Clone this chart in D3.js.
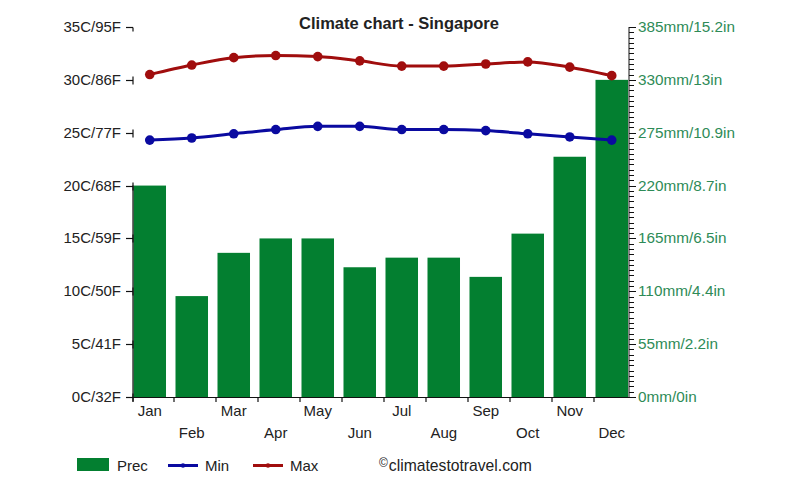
<!DOCTYPE html>
<html>
<head>
<meta charset="utf-8">
<script src="https://cdn.jsdelivr.net/npm/d3@7"></script>
<style>
  body { margin: 0; background: #fff; }
  text { font-family: "Liberation Sans", Arial, sans-serif; }
</style>
</head>
<body>
<div id="chart"></div>
<script>
// Climate chart - Singapore

const months = ["Jan", "Feb", "Mar", "Apr", "May", "Jun", "Jul", "Aug", "Sep", "Oct", "Nov", "Dec"];
const prec = [220, 105, 150, 165, 165, 135, 145, 145, 125, 170, 250, 330];
const tMin = [24.3, 24.5, 24.9, 25.3, 25.6, 25.6, 25.3, 25.3, 25.2, 24.9, 24.6, 24.3];
const tMax = [30.5, 31.4, 32.1, 32.3, 32.2, 31.8, 31.3, 31.3, 31.5, 31.7, 31.2, 30.4];
const tempTicks = [0, 5, 10, 15, 20, 25, 30, 35];
const precTicks = [0, 55, 110, 165, 220, 275, 330, 385];
const precInch = ["0", "2.2", "4.4", "6.5", "8.7", "10.9", "13", "15.2"];

(function () {
  const W = 800, H = 500;
  const left = 133, right = 629, top = 27, bottom = 397;

  const green = "#037f30", blue = "#0a0aa0", red = "#a00d0d";

  const svg = d3.select("#chart").append("svg")
    .attr("width", W).attr("height", H);

  // scales
  const x = d3.scaleBand()
    .domain(months)
    .range([left + 0.5, left + 0.5 + 11 * 42 + 32.5])
    .paddingInner(0.226)
    .paddingOuter(0);

  const yT = d3.scaleLinear().domain([0, 35]).range([bottom, top]);
  const yP = d3.scaleLinear().domain([0, 385]).range([bottom, top]);

  // title
  svg.append("text")
    .attr("x", 399).attr("y", 29)
    .attr("text-anchor", "middle")
    .attr("font-size", "16.5px").attr("font-weight", "bold")
    .attr("fill", "#222")
    .text("Climate chart - Singapore");

  // bars
  svg.selectAll(".bar")
    .data(prec)
    .enter().append("rect")
    .attr("class", "bar")
    .attr("x", (d, i) => x(months[i]))
    .attr("y", d => yP(d))
    .attr("width", x.bandwidth())
    .attr("height", d => bottom - yP(d))
    .attr("fill", green);

  // left axis (ticks with small stubs, line only along the first bar)
  const gl = svg.append("g").attr("stroke", "#111").attr("stroke-width", 1.2);
  tempTicks.forEach(t => {
    const y = Math.round(yT(t)) + 0.5;
    gl.append("line").attr("x1", left - 7).attr("x2", left).attr("y1", y).attr("y2", y);
    gl.append("line").attr("x1", left).attr("x2", left)
      .attr("y1", t === 35 ? y : y - 4).attr("y2", y + 4);
  });
  gl.append("line").attr("x1", left).attr("x2", left)
    .attr("y1", yP(prec[0])).attr("y2", bottom + 5);

  svg.append("g").selectAll("text")
    .data(tempTicks)
    .enter().append("text")
    .attr("x", left - 12)
    .attr("y", d => yT(d) + 5)
    .attr("text-anchor", "end")
    .attr("font-size", "15px")
    .attr("fill", "#222")
    .text(d => d + "C/" + Math.round(d * 9 / 5 + 32) + "F");

  // right axis
  const minor = d3.range(0, 385.01, 5.5);
  const gr = svg.append("g").attr("stroke", "#111").attr("stroke-width", 1);
  gr.append("line").attr("x1", right).attr("x2", right).attr("y1", top).attr("y2", bottom);
  minor.forEach(m => {
    const y = Math.round(yP(m)) + 0.5;
    gr.append("line").attr("x1", right).attr("x2", right + 5).attr("y1", y).attr("y2", y);
  });
  precTicks.forEach(m => {
    const y = Math.round(yP(m)) + 0.5;
    gr.append("line").attr("x1", right).attr("x2", right + 7).attr("y1", y).attr("y2", y);
  });

  svg.append("g").selectAll("text")
    .data(precTicks)
    .enter().append("text")
    .attr("x", right + 9)
    .attr("y", d => yP(d) + 5)
    .attr("font-size", "15.3px")
    .attr("fill", "#2e8b57")
    .text((d, i) => d + "mm/" + precInch[i] + "in");

  // bottom axis
  const gb = svg.append("g").attr("stroke", "#111").attr("stroke-width", 1.2);
  gb.append("line").attr("x1", left).attr("x2", right).attr("y1", bottom + 0.5).attr("y2", bottom + 0.5);
  months.forEach((m, i) => {
    if (i === 0) return;
    const xx = Math.round(x(m)) - 1;
    gb.append("line").attr("x1", xx).attr("x2", xx).attr("y1", bottom).attr("y2", bottom + 5);
  });

  svg.append("g").selectAll("text")
    .data(months)
    .enter().append("text")
    .attr("x", d => x(d) + x.bandwidth() / 2)
    .attr("y", (d, i) => i % 2 === 0 ? 416 : 438)
    .attr("text-anchor", "middle")
    .attr("font-size", "15px")
    .attr("fill", "#222")
    .text(d => d);

  // temperature lines
  const line = d3.line()
    .x((d, i) => x(months[i]) + x.bandwidth() / 2)
    .y(d => yT(d))
    .curve(d3.curveMonotoneX);

  [[tMax, red], [tMin, blue]].forEach(([vals, col]) => {
    svg.append("path")
      .datum(vals)
      .attr("d", line)
      .attr("fill", "none")
      .attr("stroke", col)
      .attr("stroke-width", 3);
    svg.append("g").selectAll("circle")
      .data(vals)
      .enter().append("circle")
      .attr("cx", (d, i) => x(months[i]) + x.bandwidth() / 2)
      .attr("cy", d => yT(d))
      .attr("r", 4.8)
      .attr("fill", col);
  });

  // legend
  const lg = svg.append("g");
  lg.append("rect").attr("x", 77).attr("y", 458).attr("width", 32).attr("height", 13).attr("fill", green);
  lg.append("text").attr("x", 117).attr("y", 471).attr("font-size", "15px").attr("fill", "#222").text("Prec");

  [["Min", blue, 168], ["Max", red, 253]].forEach(([name, col, lx]) => {
    lg.append("line").attr("x1", lx).attr("x2", lx + 30).attr("y1", 465.5).attr("y2", 465.5)
      .attr("stroke", col).attr("stroke-width", 3);
    lg.append("circle").attr("cx", lx + 15).attr("cy", 465.5).attr("r", 2.2).attr("fill", col);
    lg.append("text").attr("x", lx + 37).attr("y", 471).attr("font-size", "15px").attr("fill", "#222").text(name);
  });

  const cp = lg.append("text").attr("x", 379).attr("y", 471).attr("font-size", "15.7px").attr("fill", "#222");
  cp.append("tspan").attr("font-size", "12px").attr("dy", -4).text("©");
  cp.append("tspan").attr("dy", 4).attr("dx", 1).text("climatestotravel.com");
})();
</script>
</body>
</html>
